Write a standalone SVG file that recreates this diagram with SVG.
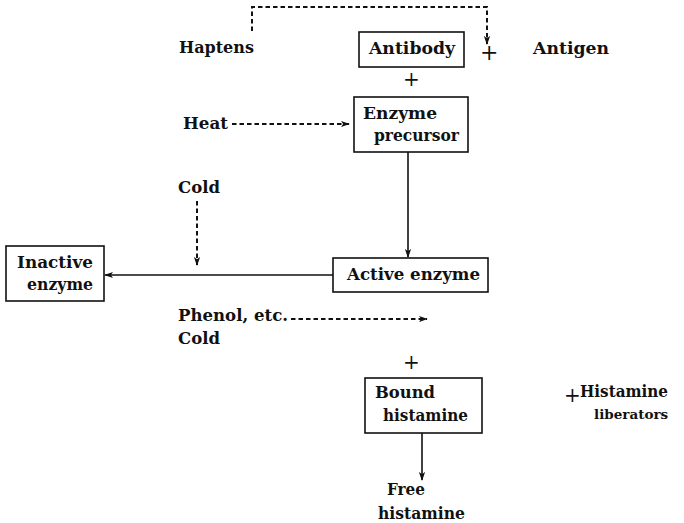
<svg xmlns="http://www.w3.org/2000/svg" width="684" height="523" viewBox="0 0 684 523">
<style>
text{font-family:"DejaVu Serif","Liberation Serif",serif;font-weight:bold;font-size:17px;fill:#111}
text.plus{font-weight:normal;font-size:20px}
text.small{font-size:13.5px}
.box{fill:none;stroke:#111;stroke-width:1.6}
.ln{fill:none;stroke:#111;stroke-width:1.6}
.dash{fill:none;stroke:#111;stroke-width:2;stroke-dasharray:4.5 3}
</style>
<defs>
<marker id="ah" viewBox="0 0 10 10" refX="9" refY="5" markerWidth="9" markerHeight="9" markerUnits="userSpaceOnUse" orient="auto">
<path d="M0,1.5 L10,5 L0,8.5 L2.5,5 Z" fill="#111"/>
</marker>
</defs>
<rect width="684" height="523" fill="#fff"/>
<g id="haptens"><text x="179" y="53" textLength="75" lengthAdjust="spacingAndGlyphs">Haptens</text></g>
<g id="antibody"><rect class="box" x="359" y="32" width="105" height="35"/><text x="369" y="54" textLength="86" lengthAdjust="spacingAndGlyphs">Antibody</text></g>
<g id="antigen"><text class="plus" x="480" y="60" style="font-size:22px">+</text><text x="533" y="54" textLength="76" lengthAdjust="spacingAndGlyphs">Antigen</text></g>
<g id="plus1"><text class="plus" x="403" y="86">+</text></g>
<g id="enzyme-precursor"><rect class="box" x="354" y="97" width="114" height="55"/><text x="363" y="119" textLength="74" lengthAdjust="spacingAndGlyphs">Enzyme</text><text x="374" y="141" textLength="85" lengthAdjust="spacingAndGlyphs">precursor</text></g>
<g id="heat"><text x="183" y="129" textLength="45" lengthAdjust="spacingAndGlyphs">Heat</text></g>
<g id="cold1"><text x="178" y="193" textLength="42" lengthAdjust="spacingAndGlyphs">Cold</text></g>
<g id="active-enzyme"><rect class="box" x="333" y="258" width="155" height="34"/><text x="347" y="280" textLength="133" lengthAdjust="spacingAndGlyphs">Active enzyme</text></g>
<g id="inactive-enzyme"><rect class="box" x="6" y="246" width="98" height="55"/><text x="17" y="268" textLength="76" lengthAdjust="spacingAndGlyphs">Inactive</text><text x="27" y="290" textLength="66" lengthAdjust="spacingAndGlyphs">enzyme</text></g>
<g id="phenol"><text x="178" y="321" textLength="110" lengthAdjust="spacingAndGlyphs">Phenol, etc.</text><text x="178" y="344" textLength="42" lengthAdjust="spacingAndGlyphs">Cold</text></g>
<g id="plus2"><text class="plus" x="403" y="369">+</text></g>
<g id="bound-histamine"><rect class="box" x="365" y="378" width="117" height="55"/><text x="375" y="398" textLength="60" lengthAdjust="spacingAndGlyphs">Bound</text><text x="383" y="421" textLength="85" lengthAdjust="spacingAndGlyphs">histamine</text></g>
<g id="histamine-liberators"><text class="plus" x="564" y="402">+</text><text x="580" y="397" textLength="88" lengthAdjust="spacingAndGlyphs">Histamine</text><text class="small" x="594" y="419">liberators</text></g>
<g id="free-histamine"><text x="387" y="495" textLength="38" lengthAdjust="spacingAndGlyphs">Free</text><text x="378" y="519" textLength="87" lengthAdjust="spacingAndGlyphs">histamine</text></g>
<g id="connectors">
<path class="dash" d="M252,31 V7 H487 V44" marker-end="url(#ah)"/>
<path class="dash" d="M232,124 H349" marker-end="url(#ah)"/>
<path class="ln" d="M408,152 V257" marker-end="url(#ah)"/>
<path class="dash" d="M197,201 V265" marker-end="url(#ah)"/>
<path class="ln" d="M333,275 H105" marker-end="url(#ah)"/>
<path class="dash" d="M291,319 H427" marker-end="url(#ah)"/>
<path class="ln" d="M422,433 V480" marker-end="url(#ah)"/>
</g>
</svg>
